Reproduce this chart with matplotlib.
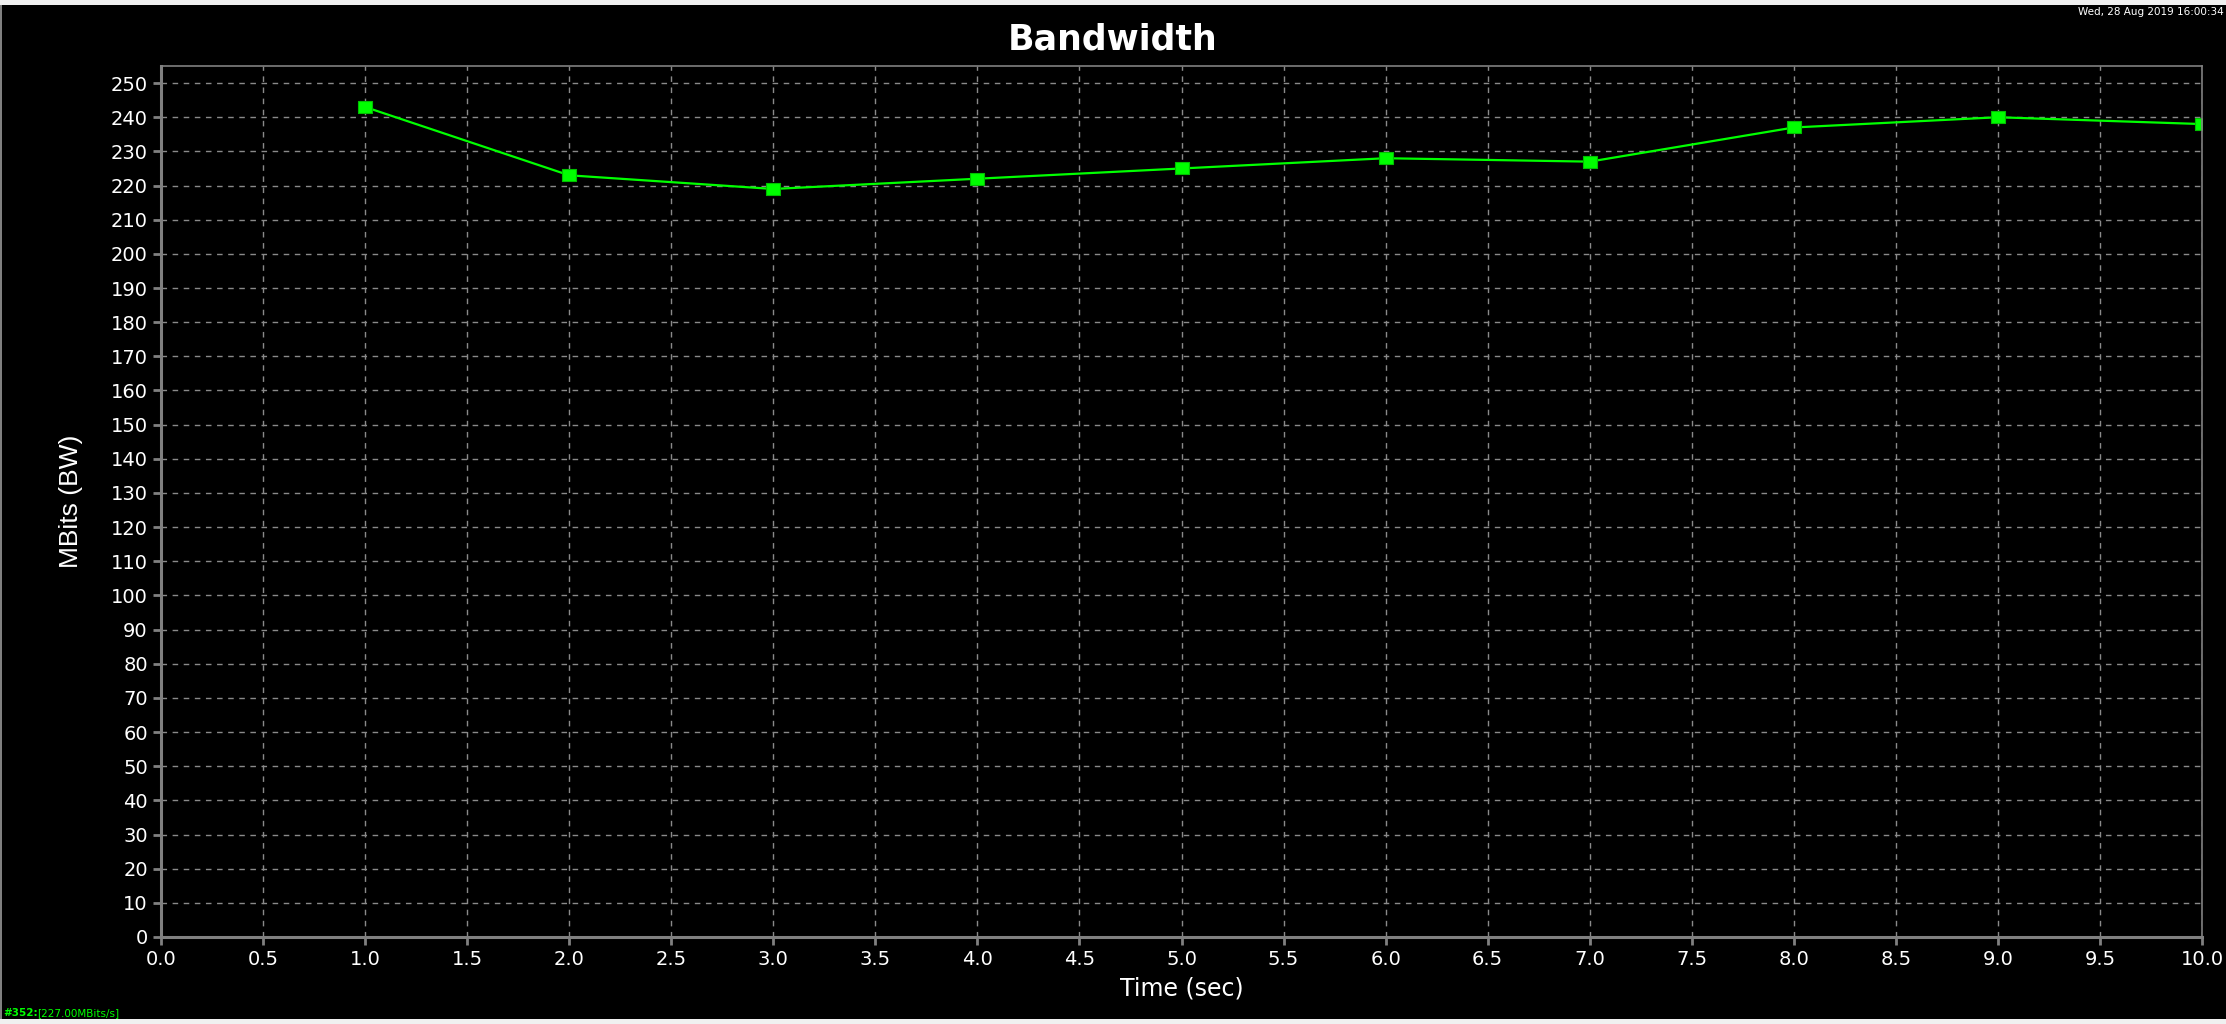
import numpy as np
import matplotlib.pyplot as plt
from matplotlib.patches import Rectangle

# values
time_sec = [1, 2, 3, 4, 5, 6, 7, 8, 9, 10]
bandwidth = [243, 223, 219, 222, 225, 228, 227, 237, 240, 238]
x_ticks = np.arange(0, 10.01, 0.5)
y_ticks = np.arange(0, 251, 10)
status_text = '[227.00MBits/s]'
stamp_text = 'Wed, 28 Aug 2019 16:00:34'

fig = plt.figure(figsize=(22.26, 10.24), dpi=100, facecolor='black')
ax = fig.add_axes([161/2226, 1-937/1024, (2202-161)/2226, (937-66)/1024])
ax.set_facecolor('black')

# window chrome: light strips at top / bottom, grey frame at left
fig.patches.append(Rectangle((0, 1-5/1024), 1, 5/1024, transform=fig.transFigure,
                             facecolor='#f0f0f0', edgecolor='none'))
fig.patches.append(Rectangle((0, 0), 1, 5/1024, transform=fig.transFigure,
                             facecolor='#f0f0f0', edgecolor='none'))
fig.patches.append(Rectangle((0, 5/1024), 2/2226, 1-10/1024, transform=fig.transFigure,
                             facecolor='#808080', edgecolor='none'))

box = [(-1.25, -1), (1.25, -1), (1.25, 1), (-1.25, 1), (-1.25, -1)]
ax.plot(time_sec, bandwidth, color='#00ff00', lw=1.6, marker=box, ms=10,
        markerfacecolor='#00ff00', markeredgecolor='#00c000', markeredgewidth=0.8)

ax.set_xlim(0, 10)
ax.set_ylim(0, 255)
ax.set_xticks(x_ticks)
ax.set_xticklabels(['%.1f' % v for v in x_ticks])
ax.set_yticks(y_ticks)
ax.grid(True, color='#8a8a8a', ls=(0, (4, 4)), lw=1.0)
ax.tick_params(colors='#808080', labelcolor='white', labelsize=14, length=6, width=2)
for lab in ax.get_xticklabels() + ax.get_yticklabels():
    lab.set_family('DejaVu Sans')

for side in ['top', 'right']:
    ax.spines[side].set_color('#808080')
    ax.spines[side].set_linewidth(1.2)
for side in ['left', 'bottom']:
    ax.spines[side].set_color('#808080')
    ax.spines[side].set_linewidth(2.2)

ax.set_xlabel('Time (sec)', color='white', fontsize=17, family='DejaVu Sans', labelpad=5)
ax.set_ylabel('MBits (BW)', color='white', fontsize=19,
              family=['Liberation Sans Narrow', 'Liberation Sans'], labelpad=20)

fig.text(0.5, 1-39/1024, 'Bandwidth', color='white', fontsize=25, fontweight='bold',
         family='DejaVu Sans', ha='center', va='center')
fig.text(2224/2226, 1-12/1024, stamp_text, color='white', fontsize=7.5,
         family='DejaVu Sans', ha='right', va='center')
fig.text(3/2226, 1-1013/1024, '#352:', color='#00ff00', fontsize=7.5, fontweight='bold',
         family='DejaVu Sans', ha='left', va='center')
fig.text(37/2226, 1-1013/1024, status_text, color='#00ff00', fontsize=7.5,
         family='DejaVu Sans', ha='left', va='center')

fig.savefig('out.png', dpi=100, facecolor='black')
